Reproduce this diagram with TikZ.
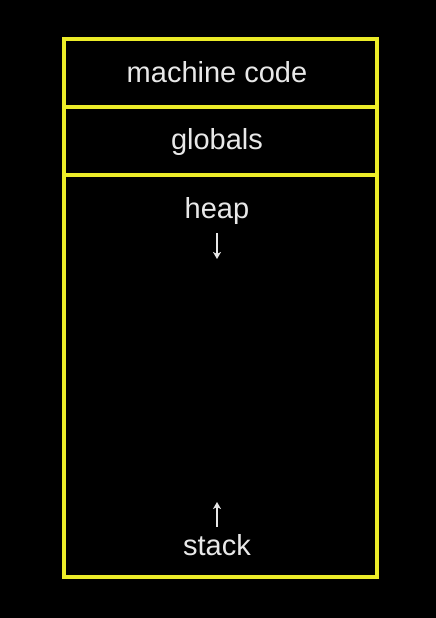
\documentclass[tikz,border=0pt]{standalone}
\usepackage{fontspec}
\setmainfont{Liberation Sans}
\usetikzlibrary{arrows.meta}
\definecolor{memyellow}{RGB}{236,236,40}
\definecolor{memtext}{RGB}{232,232,232}
\begin{document}
\begin{tikzpicture}[x=1pt,y=-1pt,
  seg/.style={draw=memyellow,line width=4pt},
  lbl/.style={text=memtext,font=\fontsize{29}{34}\selectfont,anchor=base,inner sep=0pt},
  growarrow/.style={draw=memtext,line width=1.6pt,-{Stealth[length=7pt,width=8pt,inset=2pt]}}]
\fill[black] (0,0) rectangle (436,618);
\useasboundingbox (0,0) rectangle (436,618);
% outer box and dividers
\draw[seg] (64,39) rectangle (377,577);
\draw[seg] (64,107) -- (377,107);
\draw[seg] (64,175) -- (377,175);
% labels
\node[lbl] (code) at (217,82) {machine code};
\node[lbl] (glob) at (217,149) {globals};
\node[lbl] (heap) at (217,218) {heap};
\node[lbl] (stack) at (217,555) {stack};
% arrows
\coordinate (hs) at (217,233);
\coordinate (he) at (217,259);
\coordinate (ss) at (217,527);
\coordinate (se) at (217,502);
\draw[growarrow] (hs) -- (he);
\draw[growarrow] (ss) -- (se);
\end{tikzpicture}
\end{document}
